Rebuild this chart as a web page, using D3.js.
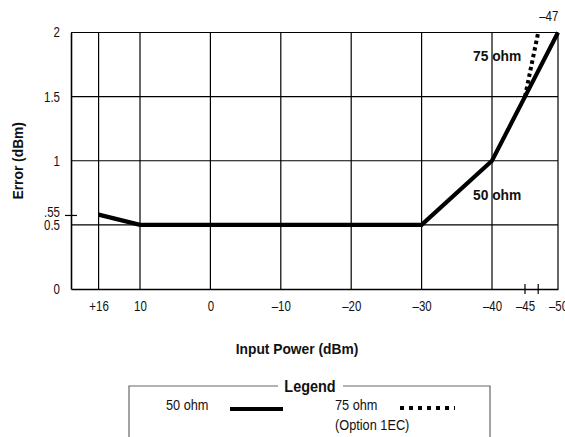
<!DOCTYPE html>
<html>
<head>
<meta charset="utf-8">
<script src="https://cdn.jsdelivr.net/npm/d3@7.9.0/dist/d3.min.js"></script>
<style>
  html, body { margin: 0; padding: 0; background: #fff; }
  svg { display: block; }
  .tick text, .lbl { font-family: "Liberation Sans", Arial, sans-serif; font-size: 14px; fill: #111; }
  .title { font-family: "Liberation Sans", Arial, sans-serif; font-weight: bold; font-size: 15px; fill: #111; }
  .legend-text { font-family: "Liberation Sans", Arial, sans-serif; font-size: 15px; fill: #111; }
</style>
</head>
<body>
<div id="chart"></div>
<script>
// input power in dBm (the x axis runs from +16 down to -50)
const gridPower = [16, 10, 0, -10, -20, -30, -40, -50];
const labelPower = [16, 10, 0, -10, -20, -30, -40, -45, -50];
const labelText = ['+16', '10', '0', '–10', '–20', '–30', '–40', '–45', '–50'];
const markPower = [-45, -47];

// error in dBm
const errorTicks = [0, 0.5, 1, 1.5, 2];
const errorLabels = ['0', '0.5', '1', '1.5', '2'];
const extraTick = 0.55;

// curves
const ohm50 = [
  { p: 16, e: 0.58 },
  { p: 10, e: 0.5 },
  { p: -30, e: 0.5 },
  { p: -40, e: 1 },
  { p: -45, e: 1.5 },
  { p: -50, e: 2 },
];
const ohm75 = [
  { p: -45, e: 1.5 },
  { p: -47, e: 2 },
];

const width = 565;
const height = 437;

// the original uses a condensed face; squeeze text around its anchor point
function squeeze(sel, k) {
  sel.each(function () {
    const t = d3.select(this);
    const tx = +t.attr('x') || 0;
    const ty = +t.attr('y') || 0;
    const prev = t.attr('transform') || '';
    t.attr('transform', `${prev} translate(${tx},${ty}) scale(${k},1) translate(${-tx},${-ty})`);
  });
}

const svg = d3.select('#chart')
  .append('svg')
  .attr('width', width)
  .attr('height', height);

const x = d3.scaleLinear()
  .domain([20, 10, -40, -50])
  .range([71, 140, 492, 558]);

const y = d3.scaleLinear()
  .domain([0, 2])
  .range([289, 32.5]);

// vertical grid
svg.append('g')
  .attr('class', 'grid-x')
  .selectAll('line')
  .data(gridPower)
  .join('line')
  .attr('x1', d => x(d)).attr('x2', d => x(d))
  .attr('y1', y(0)).attr('y2', y(2))
  .attr('stroke', '#000').attr('stroke-width', 1.2);

// horizontal grid
svg.append('g')
  .attr('class', 'grid-y')
  .selectAll('line')
  .data(errorTicks.filter(d => d > 0))
  .join('line')
  .attr('x1', x(20)).attr('x2', x(-50))
  .attr('y1', d => y(d)).attr('y2', d => y(d))
  .attr('stroke', '#000').attr('stroke-width', 1.2);

// bottom axis
const xAxis = svg.append('g')
  .attr('transform', `translate(0, ${y(0)})`)
  .call(d3.axisBottom(x)
    .tickValues(labelPower)
    .tickFormat((d, i) => labelText[i])
    .tickSize(0)
    .tickPadding(12));
xAxis.select('.domain').attr('stroke', '#000').attr('stroke-width', 1.6);
xAxis.selectAll('.tick text').attr('dy', '0.71em').call(squeeze, 0.82);

// small marks at -45 and -47
svg.append('g')
  .selectAll('line')
  .data(markPower)
  .join('line')
  .attr('x1', d => x(d)).attr('x2', d => x(d))
  .attr('y1', y(0) - 5).attr('y2', y(0) + 5)
  .attr('stroke', '#000').attr('stroke-width', 1.2);

svg.append('text')
  .attr('class', 'lbl')
  .attr('x', x(-47) + 1)
  .attr('y', 21)
  .text('–47')
  .call(squeeze, 0.82);

// left axis
const yAxis = svg.append('g')
  .attr('transform', `translate(${x(20)}, 0)`)
  .call(d3.axisLeft(y)
    .tickValues(errorTicks)
    .tickFormat((d, i) => errorLabels[i])
    .tickSize(0)
    .tickPadding(11));
yAxis.select('.domain').attr('stroke', '#000').attr('stroke-width', 1.6);
yAxis.selectAll('.tick text').call(squeeze, 0.82);

// the .55 mark
const extra = svg.append('g')
  .attr('transform', `translate(${x(20)}, ${y(extraTick) - 3})`);
extra.append('line')
  .attr('x1', -6).attr('x2', 6)
  .attr('stroke', '#000').attr('stroke-width', 1.2);
extra.append('text')
  .attr('class', 'lbl')
  .attr('x', -11).attr('y', 0).attr('dy', '0.1em')
  .attr('text-anchor', 'end')
  .text('.55')
  .call(squeeze, 0.82);

// curves
const line = d3.line().x(d => x(d.p)).y(d => y(d.e));

svg.append('path')
  .datum(ohm75)
  .attr('d', line)
  .attr('fill', 'none')
  .attr('stroke', '#000')
  .attr('stroke-width', 4)
  .attr('stroke-dasharray', '3.5,3.2');

svg.append('path')
  .datum(ohm50)
  .attr('d', line)
  .attr('fill', 'none')
  .attr('stroke', '#000')
  .attr('stroke-width', 4.2)
  .attr('stroke-linejoin', 'miter');

// curve labels
svg.append('text')
  .attr('class', 'title')
  .attr('x', x(-40) - 19).attr('y', 61)
  .text('75 ohm')
  .call(squeeze, 0.92);
svg.append('text')
  .attr('class', 'title')
  .attr('x', x(-40) - 19).attr('y', 200)
  .text('50 ohm')
  .call(squeeze, 0.92);

// axis titles
svg.append('text')
  .attr('class', 'title')
  .attr('transform', `translate(23, ${(y(0) + y(2)) / 2}) rotate(-90)`)
  .attr('text-anchor', 'middle')
  .text('Error (dBm)')
  .call(squeeze, 0.92);

svg.append('text')
  .attr('class', 'title')
  .attr('x', 297).attr('y', 354)
  .attr('text-anchor', 'middle')
  .text('Input Power (dBm)')
  .call(squeeze, 0.92);

// legend box
const lg = svg.append('g').attr('class', 'legend');
const box = { left: 129, right: 490, top: 386, bottom: 460 };
lg.append('path')
  .attr('d', `M278,${box.top} H${box.left} V${box.bottom} M${box.right},${box.bottom} V${box.top} H343`)
  .attr('fill', 'none')
  .attr('stroke', '#666')
  .attr('stroke-width', 1.2);
lg.append('text')
  .attr('class', 'title')
  .attr('x', 310).attr('y', 392)
  .attr('text-anchor', 'middle')
  .style('font-size', '17px')
  .text('Legend')
  .call(squeeze, 0.85);

lg.append('text').attr('class', 'legend-text').attr('x', 166).attr('y', 410).text('50 ohm').call(squeeze, 0.85);
lg.append('line')
  .attr('x1', 230).attr('x2', 283).attr('y1', 409).attr('y2', 409)
  .attr('stroke', '#000').attr('stroke-width', 4);

lg.append('text').attr('class', 'legend-text').attr('x', 335).attr('y', 410).text('75 ohm').call(squeeze, 0.85);
lg.append('text').attr('class', 'legend-text').attr('x', 335).attr('y', 430).text('(Option 1EC)').call(squeeze, 0.85);
lg.append('line')
  .attr('x1', 400).attr('x2', 455).attr('y1', 408).attr('y2', 408)
  .attr('stroke', '#000').attr('stroke-width', 4)
  .attr('stroke-dasharray', '4,5');
</script>
</body>
</html>
